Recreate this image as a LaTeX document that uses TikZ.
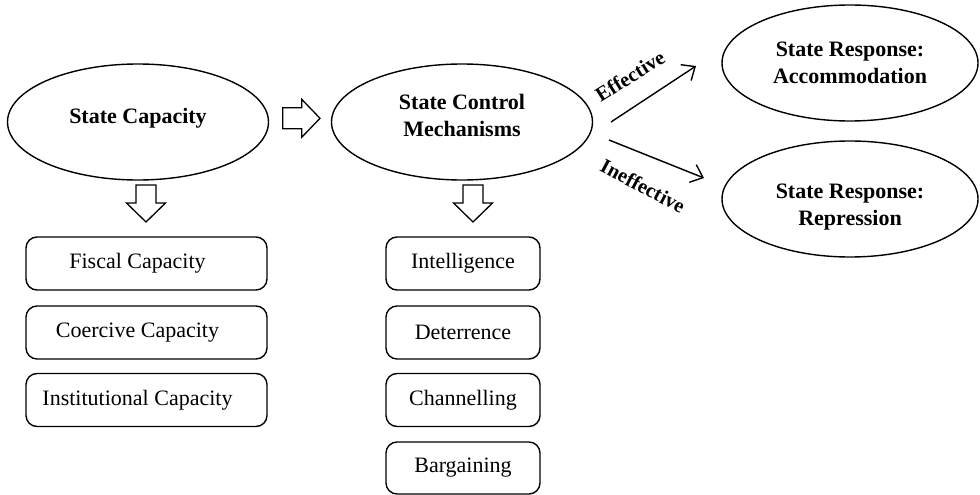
\documentclass[tikz,border=0pt]{standalone}
\usepackage{fontspec}
\setmainfont{Liberation Serif}
\usetikzlibrary{shapes.geometric,arrows.meta}
\begin{document}
\begin{tikzpicture}[x=1pt,y=-1pt,
  oval/.style={draw,ellipse,line width=1.4pt,minimum width=261pt,minimum height=116pt,inner sep=0pt},
  ovaltext/.style={inner sep=0pt,font=\fontsize{22}{27}\selectfont\bfseries,align=center},
  item/.style={draw,rounded corners=11pt,line width=1.4pt,minimum height=53pt,inner sep=0pt,
    font=\fontsize{22}{26}\selectfont},
  hollow/.style={draw,line width=1.3pt,fill=white,line join=miter},
  conn/.style={line width=1.4pt,-{Straight Barb[length=11pt,width=19pt,line width=1.4pt]}},
  lab/.style={font=\fontsize{20.5}{22}\selectfont\bfseries,inner sep=0pt}]
\useasboundingbox (0,0) rectangle (980,495);

% ellipses
\node[oval] (sc)  at (138,122) {};
\node[oval] (scm) at (462,122) {};
\node[oval,minimum width=256pt] (acc) at (850,63)  {};
\node[oval,minimum width=256pt] (rep) at (850,199) {};
\node[ovaltext] (sct)  at ([yshift=4pt]sc.center)   {State Capacity};
\node[ovaltext] (scmt) at ([yshift=6.5pt]scm.center) {State Control\\Mechanisms};
\node[ovaltext] (acct) at (acc.center)               {State Response:\\Accommodation};
\node[ovaltext] (rept) at ([yshift=-8pt]rep.center)  {State Response:\\Repression};

% hollow arrows
\draw[hollow] (282.7,107.8) -- (301.7,107.8) -- (301.7,99.3) -- (320,118.3) -- (301.7,137.3) -- (301.7,128.8) -- (282.7,128.8) -- cycle;
\draw[hollow] (136,185) -- (156,185) -- (156,203) -- (165.5,203) -- (146,222) -- (126.5,203) -- (136,203) -- cycle;
\draw[hollow] (463,185) -- (483,185) -- (483,203) -- (492.5,203) -- (473,222) -- (453.5,203) -- (463,203) -- cycle;

% boxes, first column
\node[item,minimum width=241pt] (fis) at (146.5,263.5) {\hspace*{-18pt}Fiscal Capacity};
\node[item,minimum width=241pt] (coe) at (146.5,332.5) {\hspace*{-18pt}Coercive Capacity};
\node[item,minimum width=241pt] (ins) at (146.5,400)   {\hspace*{-18pt}Institutional Capacity};

% boxes, second column
\node[item,minimum width=154pt] (int) at (463,263.5) {Intelligence};
\node[item,minimum width=154pt] (det) at (463,332.5) {Deterrence};
\node[item,minimum width=154pt] (cha) at (463,400)   {Channelling};
\node[item,minimum width=154pt,minimum height=52pt] (bar) at (463,468) {Bargaining};

% outcome arrows
\coordinate (e0) at (611,122);
\coordinate (e1) at (696,66);
\coordinate (i0) at (609,140);
\coordinate (i1) at (704,178);
\draw[conn] (e0) -- (e1);
\draw[conn] (i0) -- (i1);
\node[lab,rotate=32]  (efl) at (630,76)  {Effective};
\node[lab,rotate=-28] (inl) at (643,186) {Ineffective};
\end{tikzpicture}
\end{document}
